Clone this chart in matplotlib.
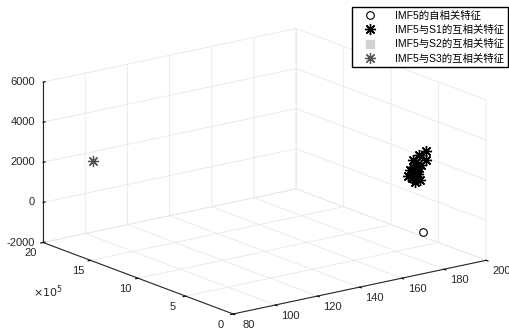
import matplotlib
matplotlib.use("Agg")
import numpy as np
import matplotlib.pyplot as plt
from mpl_toolkits.mplot3d import proj3d

# ==== Fonte ====
plt.rcParams["font.family"] = ["Liberation Sans", "Noto Sans CJK SC"]
plt.rcParams["grid.color"] = "#e8e8e8"
plt.rcParams["grid.linewidth"] = 0.6

# ==== Dados (eixo y em unidades de 1e5) ====
auto_x = [171]
auto_y = [0.25]
auto_z = [0]

s1_x = [176.1, 172.8, 176.1, 167.6, 173.3, 171.9, 170.0, 171.4, 172.4,
        170.5, 173.8, 169.5, 170.9, 168.6, 172.8, 171.9, 170.0]
s1_y = [1.0] * 17
s1_z = [3819, 3694, 3371, 2770, 2442, 2969, 3163, 3381, 2760,
        2904, 3178, 2626, 2398, 3044, 3048, 2621, 3511]

s2_x = [197]
s2_y = [0.1]
s2_z = [80]

s3_x = [99.5]
s3_y = [19.09]
s3_z = [1800]

labels = ["IMF5的自相关特征", "IMF5与S1的互相关特征",
          "IMF5与S2的互相关特征", "IMF5与S3的互相关特征"]

x_ticks = [80, 100, 120, 140, 160, 180, 200]
y_ticks = [0, 5, 10, 15, 20]
z_ticks = [-2000, 0, 2000, 4000, 6000]

xlim = (80, 200)
ylim = (0, 20)
zlim = (-2000, 6000)

# ==== Gráfico ====
fig = plt.figure(figsize=(5.1, 3.31), dpi=100)
ax = fig.add_axes([-0.052, -0.154, 1.12, 1.24], projection="3d")
ax.set_proj_type("ortho")
ax.view_init(elev=16.4, azim=-126.9)
ax.set_box_aspect((318, 318, 168), zoom=1.13)

ast = (8, 2, 0)
ax.plot(auto_x, auto_y, auto_z, linestyle="none", marker="o", mfc="none",
        mec="black", markersize=5.5, mew=0.8, label=labels[0])
ax.plot(s1_x, s1_y, s1_z, linestyle="none", marker=ast, color="black",
        markersize=8, mew=1.0, label=labels[1])
ax.plot(s2_x, s2_y, s2_z, linestyle="none", marker="s", color="#d2d2d2",
        markersize=6, label=labels[2])
ax.plot(s3_x, s3_y, s3_z, linestyle="none", marker=ast, color="#555555",
        markersize=8, mew=0.9, label=labels[3])

ax.set_xlim(*xlim)
ax.set_ylim(*ylim)
ax.set_zlim(*zlim)
ax.set_xticks(x_ticks)
ax.set_yticks(y_ticks)
ax.set_zticks(z_ticks)
ax.set_xticklabels([])
ax.set_yticklabels([])
ax.set_zticklabels([])

for axis in (ax.xaxis, ax.yaxis, ax.zaxis):
    axis.set_pane_color((1, 1, 1, 0))
    axis.pane.set_edgecolor("#e8e8e8")
    axis.line.set_color("#262626")
    axis.line.set_linewidth(0.8)
    axis._axinfo["tick"]["color"] = "#262626"
ax.xaxis._axinfo["tick"].update(inward_factor=0.12, outward_factor=0.0)
ax.yaxis._axinfo["tick"].update(inward_factor=0.12, outward_factor=0.0)
ax.zaxis._axinfo["tick"].update(inward_factor=0.0, outward_factor=0.1)

ax.legend(loc="upper right", bbox_to_anchor=(1.0, 0.985),
          bbox_transform=fig.transFigure, fontsize=7.5, frameon=True,
          fancybox=False, edgecolor="black", framealpha=1,
          handlelength=2.8, handletextpad=1.0, borderpad=0.35,
          labelspacing=0.4, borderaxespad=0.2)

# ==== Rótulos dos ticks (estilo MATLAB), projetados para 2D ====
fig.canvas.draw()
W, H = fig.bbox.width, fig.bbox.height


def put_labels(xs, ys, zs, texts, **kw):
    x2, y2, _ = proj3d.proj_transform(np.asarray(xs, float), np.asarray(ys, float),
                                      np.asarray(zs, float), ax.get_proj())
    pts = ax.transData.transform(np.column_stack([x2, y2]))
    for (px, py), s in zip(pts, texts):
        fig.text(px / W, py / H, s, fontsize=8, color="#262626", **kw)


n = len(x_ticks)
put_labels(x_ticks, [ylim[0] - 1.6] * n, [zlim[0] - 250] * n,
           [str(t) for t in x_ticks], ha="center", va="center")
n = len(y_ticks)
put_labels([xlim[0] - 6] * n, y_ticks, [zlim[0] - 400] * n,
           [str(t) for t in y_ticks], ha="center", va="center")
n = len(z_ticks)
put_labels([xlim[0] - 2.4] * n, [ylim[1] + 0.3] * n, z_ticks,
           [str(t) for t in z_ticks], ha="right", va="center")

fig.text(0.065, 0.105, r"$\times10^5$", fontsize=8, color="#262626")

fig.savefig("out.png", dpi=100)
